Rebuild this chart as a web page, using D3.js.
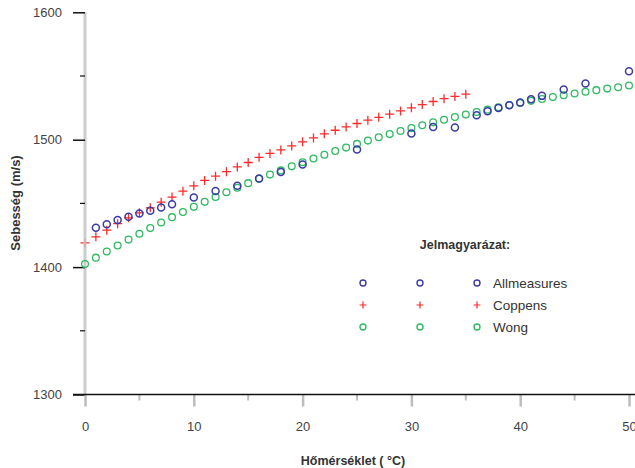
<!DOCTYPE html>
<html><head><meta charset="utf-8">
<script src="https://cdn.jsdelivr.net/npm/d3@7/dist/d3.min.js"></script>
<style>body{margin:0;background:#fff}svg{display:block}text{font-family:"Liberation Sans",Arial,sans-serif}</style>
</head><body><svg id="c" width="635" height="468"></svg>
<script>
// Data
const wongT = d3.range(0, 51);
const wongV = [1402.4,1407.4,1412.2,1416.9,1421.6,1426.2,1430.6,1435.0,1439.2,1443.3,
  1447.3,1451.2,1455.0,1458.7,1462.3,1465.9,1469.3,1472.6,1475.9,1479.1,
  1482.3,1485.3,1488.2,1491.1,1493.8,1496.7,1499.3,1501.9,1504.4,1506.8,
  1509.1,1511.4,1513.6,1515.7,1517.8,1519.8,1521.7,1523.6,1525.4,1527.2,
  1528.9,1530.5,1532.0,1533.5,1534.9,1536.3,1537.6,1538.9,1540.1,1541.2,1542.5];
const coppensT = d3.range(0, 36);
const coppensV = [1419.0,1423.8,1429.0,1434.1,1438.7,1442.6,1446.5,1451.0,1455.0,1459.6,
  1463.8,1468.0,1471.4,1474.9,1478.6,1482.1,1486.2,1489.2,1492.0,1495.1,
  1498.3,1501.4,1504.6,1507.4,1510.0,1512.7,1515.3,1517.6,1520.0,1522.6,
  1525.0,1527.6,1530.0,1532.2,1534.0,1535.7];
const allT = [1,2,3,4,5,6,7,8,10,12,14,16,18,20,25,30,32,34,36,37,38,39,40,41,42,44,46,50];
const allV = [1430.8,1433.7,1436.9,1439.5,1442.1,1444.2,1446.8,1449.4,1454.7,1459.8,
  1463.8,1469.6,1474.7,1480.5,1492.3,1504.9,1510.0,1509.6,1519.2,1522.4,
  1524.9,1527.1,1529.2,1531.8,1534.4,1539.4,1544.1,1553.7];
const xTicks = [0,10,20,30,40,50];
const xMinor = [5,15,25,35,45];
const yTicks = [1300,1400,1500,1600];
const yMinor = [1350,1450,1550];
const legendNames = ["Allmeasures","Coppens","Wong"];
const colors = {blue:"#3a3aa6", red:"#ff2a2a", green:"#2fba62"};

const svg = d3.select("#c");
const x = d3.scaleLinear().domain([0,50]).range([85,629]);
const y = d3.scaleLinear().domain([1300,1600]).range([394.5,12.3]);

// Series drawn first at x=0 under axis (Coppens), rest on top
const plusPath = s => `M${-s},0H${s}M0,${-s}V${s}`;
svg.append("g").selectAll("path").data(coppensT).join("path")
  .attr("transform",(d,i)=>`translate(${x(d)},${y(coppensV[i])})`).attr("d",plusPath(4.5))
  .attr("fill","none").attr("stroke",colors.red).attr("stroke-width",1.3);

// Y axis (gray line, black ticks)
svg.append("line").attr("x1",x(0)).attr("x2",x(0)).attr("y1",y(1600)).attr("y2",y(1300))
  .attr("stroke","#c4c4c4").attr("stroke-width",3).attr("opacity",0.85);
const yAx = svg.append("g").attr("transform",`translate(${x(0)},0)`)
  .call(d3.axisLeft(y).tickValues(yTicks).tickSize(12).tickPadding(11).tickFormat(d3.format("d")));
yAx.select(".domain").remove();
yAx.selectAll(".tick line").attr("stroke","#111").attr("stroke-width",1.5);
yAx.selectAll(".tick text").attr("font-size",13).attr("fill","#444").attr("font-family","Liberation Sans, Arial, sans-serif");
svg.append("g").selectAll("line").data(yMinor).join("line")
  .attr("x1",x(0)-5).attr("x2",x(0)).attr("y1",d=>y(d)).attr("y2",d=>y(d))
  .attr("stroke","#111").attr("stroke-width",1.2);

// X axis (black line, gray ticks)
const xAx = svg.append("g").attr("transform",`translate(0,${y(1300)})`)
  .call(d3.axisBottom(x).tickValues(xTicks).tickSize(12).tickPadding(15).tickFormat(d3.format("d")));
xAx.select(".domain").remove();
xAx.selectAll(".tick line").attr("stroke","#bdbdbd").attr("stroke-width",2.5);
xAx.selectAll(".tick text").attr("font-size",13).attr("fill","#444").attr("font-family","Liberation Sans, Arial, sans-serif");
svg.append("g").selectAll("line").data(xMinor).join("line")
  .attr("x1",d=>x(d)).attr("x2",d=>x(d)).attr("y1",y(1300)).attr("y2",y(1300)+6)
  .attr("stroke","#bdbdbd").attr("stroke-width",2);
svg.append("line").attr("x1",73).attr("x2",635).attr("y1",y(1300)).attr("y2",y(1300))
  .attr("stroke","#111").attr("stroke-width",1.5);

// Axis titles
svg.append("text").attr("x",353).attr("y",464.5).attr("text-anchor","middle")
  .attr("font-size",12.5).attr("font-weight","bold").attr("fill","#333").text("Hőmérséklet ( °C)");
svg.append("text").attr("transform","translate(20,203) rotate(-90)").attr("text-anchor","middle")
  .attr("font-size",13).attr("font-weight","bold").attr("fill","#333").text("Sebesség (m/s)");

// Other series
svg.append("g").selectAll("circle").data(wongT).join("circle")
  .attr("cx",(d)=>x(d)).attr("cy",(d,i)=>y(wongV[i])).attr("r",3.4)
  .attr("fill","none").attr("stroke",colors.green).attr("stroke-width",1.3);
svg.append("g").selectAll("circle").data(allT).join("circle")
  .attr("cx",(d)=>x(d)).attr("cy",(d,i)=>y(allV[i])).attr("r",3.5)
  .attr("fill","none").attr("stroke",colors.blue).attr("stroke-width",1.5);

// Legend
svg.append("text").attr("x",465).attr("y",249).attr("text-anchor","middle")
  .attr("font-size",12.5).attr("font-weight","bold").attr("fill","#333").text("Jelmagyarázat:");
const legCols = [363,420,477];
const legRows = [283,305,327];
const legColors = [colors.blue,colors.red,colors.green];
legendNames.forEach((name,i)=>{
  legCols.forEach(cx=>{
    if(i===1){
      svg.append("path").attr("transform",`translate(${cx},${legRows[i]})`).attr("d",plusPath(3.5))
        .attr("fill","none").attr("stroke",legColors[i]).attr("stroke-width",1.2);
    } else {
      svg.append("circle").attr("cx",cx).attr("cy",legRows[i]).attr("r",3)
        .attr("fill","none").attr("stroke",legColors[i]).attr("stroke-width",1.4);
    }
  });
  svg.append("text").attr("x",493).attr("y",legRows[i]+5).attr("font-size",13.5)
    .attr("fill","#333").text(name);
});
</script></body></html>
